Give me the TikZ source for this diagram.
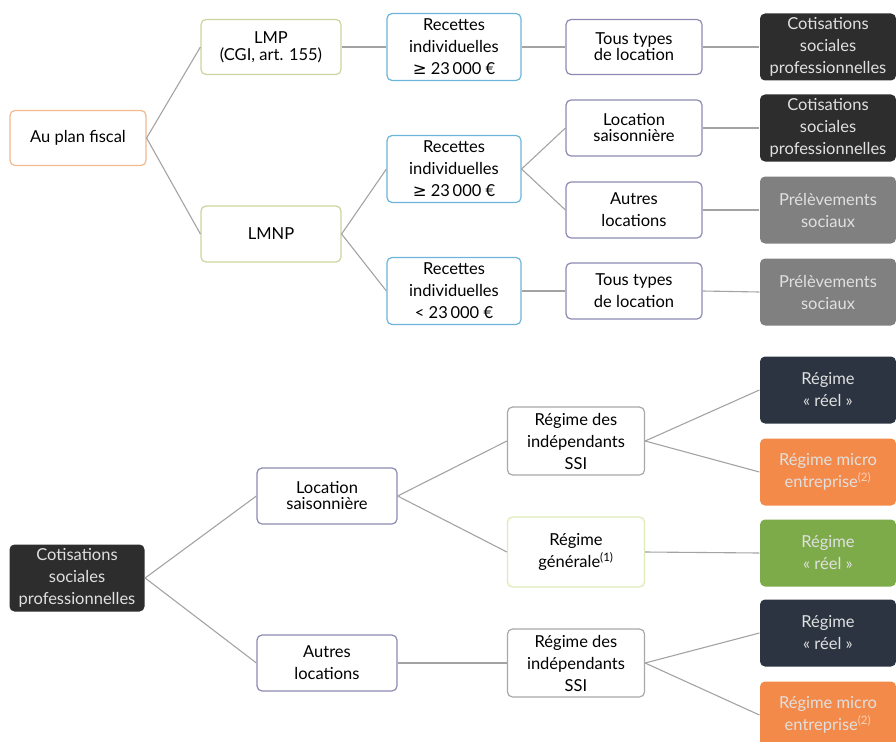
\documentclass[tikz,border=0pt]{standalone}
\usepackage{fontspec}
\setmainfont{Lato}
\newfontfamily\symfont{DejaVu Sans}
\usepackage{tikz}

\definecolor{linkgray}{HTML}{A3A3A3}
\definecolor{orangeline}{HTML}{F3B98F}
\definecolor{oliveline}{HTML}{CAD69E}
\definecolor{blueline}{HTML}{6DB4DA}
\definecolor{purpleline}{HTML}{8C8AB3}
\definecolor{grayline}{HTML}{A8A8A8}
\definecolor{paleline}{HTML}{DCEBB8}
\definecolor{charcoal}{HTML}{2D2D2D}
\definecolor{midgray}{HTML}{808080}
\definecolor{navy}{HTML}{2B3440}
\definecolor{tangerine}{HTML}{F48A4A}
\definecolor{grass}{HTML}{7DAB4A}

\newcommand{\geqsign}{{\symfont ≥}}

\tikzset{
  box/.style={draw, rounded corners=5pt, fill=white, line width=1.2pt,
    minimum width=136pt, minimum height=55pt, align=center, inner sep=1pt,
    font=\fontsize{16.5}{19}\selectfont},
  tallbox/.style={box, minimum height=67pt, font=\fontsize{16.5}{22}\selectfont},
  solidbox/.style={tallbox, draw=none, text=white!88!black,
    font=\fontsize{16.5}{22}\selectfont},
  link/.style={draw=linkgray, line width=1.1pt},
}

\begin{document}
\begin{tikzpicture}[x=1pt, y=-1pt]
    \useasboundingbox (0,0) rectangle (896,741);

    % Au plan fiscal
    \node[box, draw=orangeline] (fiscal) at (78,138) {Au plan fiscal};
    \node[box, draw=oliveline, minimum width=140pt, font=\fontsize{16.5}{17}\selectfont] (lmp) at (271,47) {LMP\\(CGI, art. 155)};
    \node[box, draw=oliveline, minimum width=140pt, minimum height=56pt] (lmnp) at (271,234) {LMNP};

    \node[tallbox, draw=blueline, minimum width=134pt] (rec1) at (454,47) {Recettes\\individuelles\\\geqsign\ 23\,000 €};
    \node[tallbox, draw=blueline, minimum width=134pt] (rec2) at (454,169) {Recettes\\individuelles\\\geqsign\ 23\,000 €};
    \node[tallbox, draw=blueline, minimum width=134pt] (rec3) at (454,291) {Recettes\\individuelles\\< 23\,000 €};

    \node[box, draw=purpleline, font=\fontsize{16.5}{16}\selectfont] (tous1) at (634,47) {Tous types\\de location};
    \node[box, draw=purpleline, minimum height=56pt, font=\fontsize{16.5}{16}\selectfont] (saison1) at (634,128) {Location\\saisonnière};
    \node[box, draw=purpleline, minimum height=56pt, font=\fontsize{16.5}{22}\selectfont] (autres1) at (634,210) {Autres\\locations};
    \node[box, draw=purpleline, minimum height=56pt, font=\fontsize{16.5}{22}\selectfont] (tous2) at (634,291) {Tous types\\de location};

    \node[solidbox, fill=charcoal] (cotis1) at (828,47) {Cotisations\\sociales\\professionnelles};
    \node[solidbox, fill=charcoal] (cotis2) at (828,128) {Cotisations\\sociales\\professionnelles};
    \node[solidbox, fill=midgray] (prel1) at (828,210) {Prélèvements\\sociaux};
    \node[solidbox, fill=midgray] (prel2) at (828,292) {Prélèvements\\sociaux};

    \draw[link] (fiscal.east) -- (lmp.west);
    \draw[link] (fiscal.east) -- (lmnp.west);
    \draw[link] (lmp.east) -- (rec1.west);
    \draw[link] (lmnp.east) -- (rec2.west);
    \draw[link] (lmnp.east) -- (rec3.west);
    \draw[link] (rec1.east) -- (tous1.west);
    \draw[link] (rec2.east) -- (saison1.west);
    \draw[link] (rec2.east) -- (autres1.west);
    \draw[link] (rec3.east) -- (tous2.west);
    \draw[link] (tous1.east) -- (cotis1.west);
    \draw[link] (saison1.east) -- (cotis2.west);
    \draw[link] (autres1.east) -- (prel1.west);
    \draw[link] (tous2.east) -- (prel2.west);

    % Cotisations sociales professionnelles
    \node[solidbox, fill=charcoal, minimum width=135pt] (cotis) at (77,578) {Cotisations\\sociales\\professionnelles};
    \node[box, draw=purpleline, minimum width=140pt, minimum height=56pt, font=\fontsize{16.5}{16}\selectfont] (saison) at (327,496) {Location\\saisonnière};
    \node[box, draw=purpleline, minimum width=140pt, minimum height=56pt, font=\fontsize{16.5}{22}\selectfont] (autres) at (327,663) {Autres\\locations};

    \node[tallbox, draw=grayline, minimum width=137pt, minimum height=68pt] (ssi1) at (576,441) {Régime des\\indépendants\\SSI};
    \node[tallbox, draw=paleline, minimum width=137pt, minimum height=70pt] (general) at (576,552) {Régime\\générale\textsuperscript{(1)}};
    \node[tallbox, draw=grayline, minimum width=137pt, minimum height=68pt] (ssi2) at (576,663) {Régime des\\indépendants\\SSI};

    \node[solidbox, fill=navy] (reel1) at (828,390) {Régime\\« réel »};
    \node[solidbox, fill=tangerine] (micro1) at (828,472) {Régime micro\\entreprise\textsuperscript{\color{white!60!tangerine}(2)}};
    \node[solidbox, fill=grass] (reel2) at (828,553) {Régime\\« réel »};
    \node[solidbox, fill=navy] (reel3) at (828,633) {Régime\\« réel »};
    \node[solidbox, fill=tangerine] (micro2) at (828,715) {Régime micro\\entreprise\textsuperscript{\color{white!60!tangerine}(2)}};

    \draw[link] (cotis.east) -- (saison.west);
    \draw[link] (cotis.east) -- (autres.west);
    \draw[link] (saison.east) -- (ssi1.west);
    \draw[link] (saison.east) -- (general.west);
    \draw[link] (autres.east) -- (ssi2.west);
    \draw[link] (ssi1.east) -- (reel1.west);
    \draw[link] (ssi1.east) -- (micro1.west);
    \draw[link] (general.east) -- (reel2.west);
    \draw[link] (ssi2.east) -- (reel3.west);
    \draw[link] (ssi2.east) -- (micro2.west);
\end{tikzpicture}
\end{document}
